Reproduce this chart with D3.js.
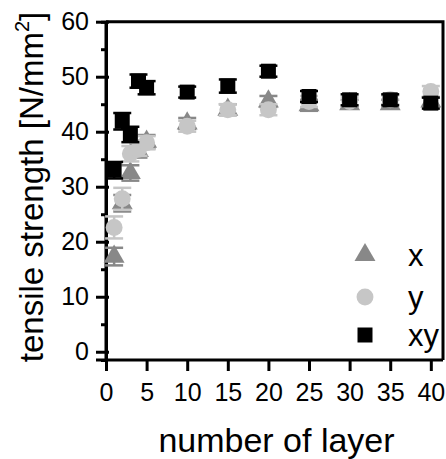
<!DOCTYPE html>
<html>
<head>
<meta charset="utf-8">
<script src="https://cdn.jsdelivr.net/npm/d3@7"></script>
<style>
  body { margin: 0; background: #fff; }
  svg { display: block; font-family: "Liberation Sans", Arial, sans-serif; }
</style>
</head>
<body>
<div id="chart"></div>
<script>
// number of layers and tensile strength per print direction
var layers = [1, 2, 3, 4, 5, 10, 15, 20, 25, 30, 35, 40];
var xVals  = [17.3, 27.0, 32.5, 36.5, 38.2, 41.5, 44.0, 45.5, 44.8, 45.0, 45.0, 45.5];
var xErr   = [1.6, 1.5, 1.4, 1.2, 1.2, 1.0, 1.0, 1.0, 1.0, 0.8, 0.8, 0.8];
var yVals  = [22.6, 27.8, 36.0, 36.8, 38.0, 41.0, 44.0, 44.0, 45.5, 45.5, 45.8, 47.3];
var yErr   = [2.0, 2.0, 1.4, 1.2, 1.2, 1.0, 1.0, 1.0, 1.0, 0.8, 0.8, 1.0];
var xyVals = [33.0, 41.9, 39.5, 49.2, 48.0, 47.2, 48.3, 51.0, 46.4, 45.8, 45.8, 45.2];
var xyErr  = [1.5, 1.5, 1.4, 1.2, 1.2, 1.0, 1.2, 1.0, 1.0, 1.0, 1.0, 1.0];
var xTicks = [0, 5, 10, 15, 20, 25, 30, 35, 40];
var yTicks = [0, 10, 20, 30, 40, 50, 60];
var yMinor = [5, 15, 25, 35, 45, 55];

var W = 446, H = 459;
var mLeft = 106, mRight = 443, mTop = 21.7, mBottom = 360;

var svg = d3.select("#chart").append("svg")
    .attr("width", W)
    .attr("height", H);

var x = d3.scaleLinear().domain([0, 41.5]).range([mLeft, mRight]);
var y = d3.scaleLinear().domain([-1.5, 60]).range([mBottom, mTop]);

// frame (top + right)
svg.append("path")
    .attr("d", "M" + mLeft + "," + mTop + "H" + mRight + "V" + mBottom)
    .attr("fill", "none")
    .attr("stroke", "#000")
    .attr("stroke-width", 3);

// y axis
var yAxis = d3.axisLeft(y).tickValues(yTicks).tickSize(10).tickPadding(7);
var gy = svg.append("g")
    .attr("transform", "translate(" + mLeft + ",0)")
    .call(yAxis);
gy.selectAll(".tick line").attr("x1", 3);
var gyMinor = svg.append("g")
    .attr("transform", "translate(" + mLeft + ",0)")
    .call(d3.axisLeft(y).tickValues(yMinor).tickSize(5).tickFormat(""));

// x axis
var xAxis = d3.axisBottom(x).tickValues(xTicks).tickSize(11).tickPadding(12);
var gx = svg.append("g")
    .attr("transform", "translate(0," + mBottom + ")")
    .call(xAxis);

[gy, gyMinor, gx].forEach(function (g) {
    g.select(".domain").attr("stroke-width", 3);
    g.selectAll(".tick line").attr("stroke-width", 3);
    g.selectAll("text").attr("font-size", 25).attr("font-family", "Liberation Sans, Arial, sans-serif").attr("fill", "#000");
});
gx.select(".domain").attr("d", "M" + (mLeft - 10) + ",0H" + mRight);
gy.select(".domain").attr("d", "M0," + mTop + "V" + (mBottom + 1.5));

// axis titles
svg.append("text")
    .attr("x", (mLeft + mRight) / 2 + 2)
    .attr("y", 452)
    .attr("text-anchor", "middle")
    .attr("font-size", 34)
    .text("number of layer");

var yt = svg.append("text")
    .attr("transform", "translate(43,187) rotate(-90)")
    .attr("text-anchor", "middle")
    .attr("font-size", 33);
yt.append("tspan").text("tensile strength [N/mm");
yt.append("tspan").attr("font-size", 20).attr("dy", -14).text("2");
yt.append("tspan").attr("dy", 14).text("]");

// series
var series = [
    {name: "x",  vals: xVals,  err: xErr,  color: "#888888", shape: d3.symbolTriangle, size: 190},
    {name: "y",  vals: yVals,  err: yErr,  color: "#c6c6c6", shape: d3.symbolCircle,   size: 225},
    {name: "xy", vals: xyVals, err: xyErr, color: "#000000", shape: d3.symbolSquare,   size: 225}
];

var capW = 9;
series.forEach(function (s) {
    var g = svg.append("g");
    var pts = layers.map(function (l, i) { return {l: l, v: s.vals[i], e: s.err[i]}; });

    var eb = g.selectAll(".eb").data(pts).enter().append("g")
        .attr("stroke", s.color)
        .attr("stroke-width", 2.5);
    eb.append("line")
        .attr("x1", function (d) { return x(d.l); })
        .attr("x2", function (d) { return x(d.l); })
        .attr("y1", function (d) { return y(d.v - d.e); })
        .attr("y2", function (d) { return y(d.v + d.e); });
    eb.append("line")
        .attr("x1", function (d) { return x(d.l) - capW; })
        .attr("x2", function (d) { return x(d.l) + capW; })
        .attr("y1", function (d) { return y(d.v - d.e); })
        .attr("y2", function (d) { return y(d.v - d.e); });
    eb.append("line")
        .attr("x1", function (d) { return x(d.l) - capW; })
        .attr("x2", function (d) { return x(d.l) + capW; })
        .attr("y1", function (d) { return y(d.v + d.e); })
        .attr("y2", function (d) { return y(d.v + d.e); });

    g.selectAll(".pt").data(pts).enter().append("path")
        .attr("d", d3.symbol().type(s.shape).size(s.size))
        .attr("transform", function (d) { return "translate(" + x(d.l) + "," + y(d.v) + ")"; })
        .attr("fill", s.color);
});

// legend
var legY = [255, 297, 335];
series.forEach(function (s, i) {
    svg.append("path")
        .attr("d", d3.symbol().type(s.shape).size(s.size)())
        .attr("transform", "translate(365," + legY[i] + ")")
        .attr("fill", s.color);
    svg.append("text")
        .attr("x", 408)
        .attr("y", legY[i] + 11)
        .attr("font-size", 31)
        .text(s.name);
});
</script>
</body>
</html>
